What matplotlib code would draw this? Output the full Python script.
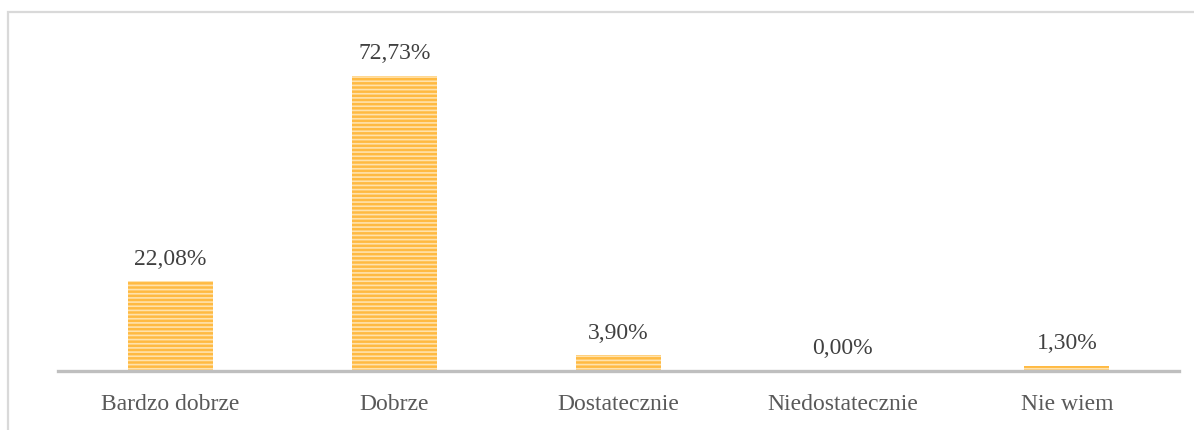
import matplotlib.pyplot as plt
from matplotlib.patches import Rectangle

kategorie = ['Bardzo dobrze', 'Dobrze', 'Dostatecznie', 'Niedostatecznie', 'Nie wiem']
procenty = [22.08, 72.73, 3.90, 0.00, 1.30]
etykiety = ['22,08%', '72,73%', '3,90%', '0,00%', '1,30%']

plt.rcParams['font.family'] = ['Liberation Serif', 'DejaVu Serif']
plt.rcParams['hatch.linewidth'] = 1.2

fig = plt.figure(figsize=(11.94, 4.31), dpi=100)
# ramka wykresu (jasnoszara)
fig.patches.append(Rectangle((8 / 1194, -0.01), 1.02 - 8 / 1194, 1 - 13 / 431 + 0.01,
                             transform=fig.transFigure, fill=False,
                             edgecolor='#D9D9D9', lw=1.6))

ax = fig.add_axes([58 / 1194, 59 / 431, 1121 / 1194, 359 / 431])
x = range(len(kategorie))
# paski w kolorze krawedzi, sama krawedz niewidoczna (lw=0)
bars = ax.bar(x, procenty, width=0.38, color='#FFBA42', edgecolor='#FFE2AC',
              linewidth=0, hatch='----')

for i, b in enumerate(bars):
    ax.annotate(etykiety[i], (b.get_x() + b.get_width() / 2, b.get_height()),
                xytext=(0, 9), textcoords='offset points', ha='center', va='bottom',
                fontsize=17, color='#404040')

ax.set_xlim(-0.5, len(kategorie) - 0.5)
ax.set_ylim(0, 88.5)
ax.set_xticks(list(x))
ax.set_xticklabels(kategorie, fontsize=17, color='#595959')
ax.tick_params(axis='x', length=0, pad=16)
ax.set_yticks([])
for s in ['top', 'right', 'left']:
    ax.spines[s].set_visible(False)
ax.spines['bottom'].set_color('#BFBFBF')
ax.spines['bottom'].set_linewidth(2.4)

fig.savefig('out.png', dpi=100)
